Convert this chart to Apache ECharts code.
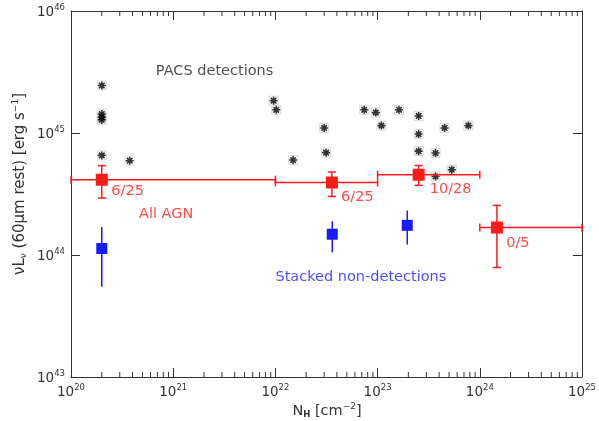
<!DOCTYPE html>
<html>
<head>
<meta charset="utf-8">
<script src="https://cdn.jsdelivr.net/npm/echarts@6/dist/echarts.min.js"></script>
<style>
  html, body { margin: 0; padding: 0; background: #fff; }
  #chart { width: 599px; height: 421px; }
</style>
</head>
<body>
<div id="chart"></div>
<script>
// PACS detections (individual sources)
var pacsX = [2.0e20, 2.0e20, 2.0e20, 2.0e20, 2.0e20, 3.75e20, 9.6e21, 1.02e22, 1.49e22,
             3.0e22, 3.13e22, 7.4e22, 9.6e22, 1.09e23, 1.62e23, 2.52e23, 2.52e23, 2.52e23,
             3.69e23, 4.52e23, 7.73e23, 5.32e23, 3.69e23];
var pacsY = [2.45e45, 1.43e45, 1.35e45, 1.28e45, 6.55e44, 5.93e44, 1.84e45, 1.55e45, 6.0e44,
             1.10e45, 6.9e44, 1.55e45, 1.47e45, 1.15e45, 1.55e45, 1.38e45, 9.8e44, 7.1e44,
             6.85e44, 1.10e45, 1.15e45, 5.0e44, 4.4e44];

// All AGN (red, binned)
var agnX   = [2.0e20, 3.57e22, 2.52e23, 1.47e24];
var agnY   = [4.14e44, 3.93e44, 4.55e44, 1.68e44];
var agnXlo = [1e20, 1e22, 1e23, 1e24];
var agnXhi = [1e22, 1e23, 1e24, 1e25];
var agnYlo = [2.93e44, 3.02e44, 3.72e44, 7.9e43];
var agnYhi = [5.4e44, 4.79e44, 5.42e44, 2.55e44];
var agnFrac = ['6/25', '6/25', '10/28', '0/5'];
var agnFracX = [3.58e20, 6.34e22, 5.18e23, 2.36e24];
var agnFracY = [3.33e44, 2.95e44, 3.44e44, 1.25e44];

// Stacked non-detections (blue)
var stackX   = [2.0e20, 3.6e22, 1.95e23];
var stackY   = [1.13e44, 1.48e44, 1.75e44];
var stackYlo = [5.5e43, 1.05e44, 1.22e44];
var stackYhi = [1.7e44, 1.89e44, 2.32e44];

// axis ranges
var xDecades = [20, 21, 22, 23, 24];
var xMin = 1e20, xMax = 1e25;
var yMin = 1e43, yMax = 1e46;

var RED = '#ff1a1a';
var BLUE = '#1a1aff';
var AXIS = '#333';
var FONT = 'DejaVu Sans';

var minorTicks = [];
xDecades.forEach(function (d) {
  for (var k = 2; k <= 9; k++) minorTicks.push([k * Math.pow(10, d), yMin]);
});

function powLabel(v) {
  return '{b|10}{s|' + Math.round(Math.log10(v)) + '}';
}
var tickRich = {
  b: { fontSize: 13.5, fontFamily: FONT, color: AXIS, lineHeight: 16, verticalAlign: 'bottom' },
  s: { fontSize: 8.5, fontFamily: FONT, color: AXIS, lineHeight: 16, verticalAlign: 'bottom', padding: [0, 0, 7, 0] }
};

function logAxis(pos, min, max, showLabel) {
  return {
    type: 'log', logBase: 10, position: pos, min: min, max: max,
    axisLine: { show: true, onZero: false, lineStyle: { color: AXIS, width: 1 } },
    axisTick: { show: true, inside: true, length: 9, lineStyle: { color: AXIS, width: 1 } },
    axisLabel: { show: showLabel, formatter: powLabel, rich: tickRich, margin: 6 },
    splitLine: { show: false },
    minorTick: { show: false }
  };
}

var agnData = agnX.map(function (x, i) { return [x, agnY[i], agnXlo[i], agnXhi[i], agnYlo[i], agnYhi[i]]; });
var stackData = stackX.map(function (x, i) { return [x, stackY[i], x, x, stackYlo[i], stackYhi[i]]; });

function errBars(color, horiz, caps, sq) {
  return function (params, api) {
    var x = api.value(0), y = api.value(1);
    var p = api.coord([x, y]);
    var l = api.coord([api.value(2), y]);
    var r = api.coord([api.value(3), y]);
    var lo = api.coord([x, api.value(4)]);
    var hi = api.coord([x, api.value(5)]);
    var st = { stroke: color, lineWidth: 1.5 };
    var c = [];
    if (horiz) {
      c.push({ type: 'line', shape: { x1: l[0], y1: l[1], x2: r[0], y2: r[1] }, style: st });
      c.push({ type: 'line', shape: { x1: l[0], y1: l[1] - 4, x2: l[0], y2: l[1] + 4 }, style: st });
      c.push({ type: 'line', shape: { x1: r[0], y1: r[1] - 4, x2: r[0], y2: r[1] + 4 }, style: st });
    }
    c.push({ type: 'line', shape: { x1: lo[0], y1: lo[1], x2: hi[0], y2: hi[1] }, style: st });
    if (caps) {
      c.push({ type: 'line', shape: { x1: lo[0] - 4, y1: lo[1], x2: lo[0] + 4, y2: lo[1] }, style: st });
      c.push({ type: 'line', shape: { x1: hi[0] - 4, y1: hi[1], x2: hi[0] + 4, y2: hi[1] }, style: st });
    }
    c.push({ type: 'rect', shape: { x: p[0] - sq / 2, y: p[1] - sq / 2, width: sq, height: sq }, style: { fill: color } });
    return { type: 'group', children: c };
  };
}

function textSeries(items, color) {
  return {
    type: 'scatter', xAxisIndex: 0, yAxisIndex: 0, symbolSize: 1,
    itemStyle: { color: 'transparent' }, silent: true, z: 5,
    label: { show: true, position: 'inside', formatter: '{b}', color: color, fontSize: 14.5, fontFamily: FONT },
    data: items
  };
}

var chart = echarts.init(document.getElementById('chart'));
chart.setOption({
  animation: false,
  backgroundColor: '#fff',
  grid: { left: 71, right: 14, top: 11, bottom: 44, containLabel: false },
  xAxis: [logAxis('bottom', xMin, xMax, true), logAxis('top', xMin, xMax, false)],
  yAxis: [logAxis('left', yMin, yMax, true), logAxis('right', yMin, yMax, false)],
  graphic: [
    {
      type: 'text', x: 19, y: 184, rotation: Math.PI / 2,
      style: {
        text: '{a|νL}{sub|ν}{a| (60μm rest) [erg s}{sup|−1}{a|]}',
        align: 'center', verticalAlign: 'middle',
        rich: {
          a: { fontSize: 15, fontFamily: FONT, fill: AXIS, lineHeight: 18, verticalAlign: 'bottom' },
          sub: { fontSize: 9, fontFamily: FONT, fill: AXIS, lineHeight: 18, verticalAlign: 'bottom' },
          sup: { fontSize: 9, fontFamily: FONT, fill: AXIS, lineHeight: 18, verticalAlign: 'bottom', padding: [0, 0, 8, 0] }
        }
      }
    },
    {
      type: 'text', x: 327, y: 410,
      style: {
        text: '{a|N}{sub|H}{a| [cm}{sup|−2}{a|]}',
        align: 'center', verticalAlign: 'middle',
        rich: {
          a: { fontSize: 14.5, fontFamily: FONT, fill: AXIS, lineHeight: 18, verticalAlign: 'bottom' },
          sub: { fontSize: 8.5, fontFamily: FONT, fill: AXIS, lineHeight: 18, verticalAlign: 'bottom', fontWeight: 'bold' },
          sup: { fontSize: 9, fontFamily: FONT, fill: AXIS, lineHeight: 18, verticalAlign: 'bottom', padding: [0, 0, 8, 0] }
        }
      }
    }
  ],
  series: [
    {
      // minor ticks on the N_H axes (bottom and top)
      type: 'custom', silent: true, z: 3,
      renderItem: function (params, api) {
        var b = api.coord([api.value(0), yMin]);
        var t = api.coord([api.value(0), yMax]);
        var st = { stroke: AXIS, lineWidth: 1 };
        return { type: 'group', children: [
          { type: 'line', shape: { x1: b[0], y1: b[1], x2: b[0], y2: b[1] - 5 }, style: st },
          { type: 'line', shape: { x1: t[0], y1: t[1], x2: t[0], y2: t[1] + 5 }, style: st }
        ] };
      },
      data: minorTicks
    },
    {
      type: 'scatter', silent: true, symbol: 'rect', symbolSize: 9,
      itemStyle: { color: 'transparent', borderColor: '#d0d0d0', borderWidth: 1 },
      data: pacsX.map(function (x, i) { return [x, pacsY[i]]; })
    },
    {
      type: 'scatter', silent: true,
      symbol: 'path://M5,0L5,10M0,5L10,5M1.5,1.5L8.5,8.5M8.5,1.5L1.5,8.5',
      symbolSize: 8,
      itemStyle: { color: 'transparent', borderColor: '#000', borderWidth: 1.6 },
      data: pacsX.map(function (x, i) { return [x, pacsY[i]]; })
    },
    {
      type: 'custom', silent: true, z: 4,
      renderItem: errBars(RED, true, true, 12),
      encode: { x: 0, y: 1 },
      data: agnData
    },
    {
      type: 'custom', silent: true, z: 4,
      renderItem: errBars(BLUE, false, false, 11),
      encode: { x: 0, y: 1 },
      data: stackData
    },
    textSeries(agnFrac.map(function (t, i) { return { name: t, value: [agnFracX[i], agnFracY[i]] }; }), RED),
    textSeries([{ name: 'All AGN', value: [8.53e20, 2.16e44] }], RED),
    textSeries([{ name: 'PACS detections', value: [2.54e21, 3.2e45] }], '#222'),
    textSeries([{ name: 'Stacked non-detections', value: [6.86e22, 6.53e43] }], BLUE)
  ]
});
</script>
</body>
</html>
